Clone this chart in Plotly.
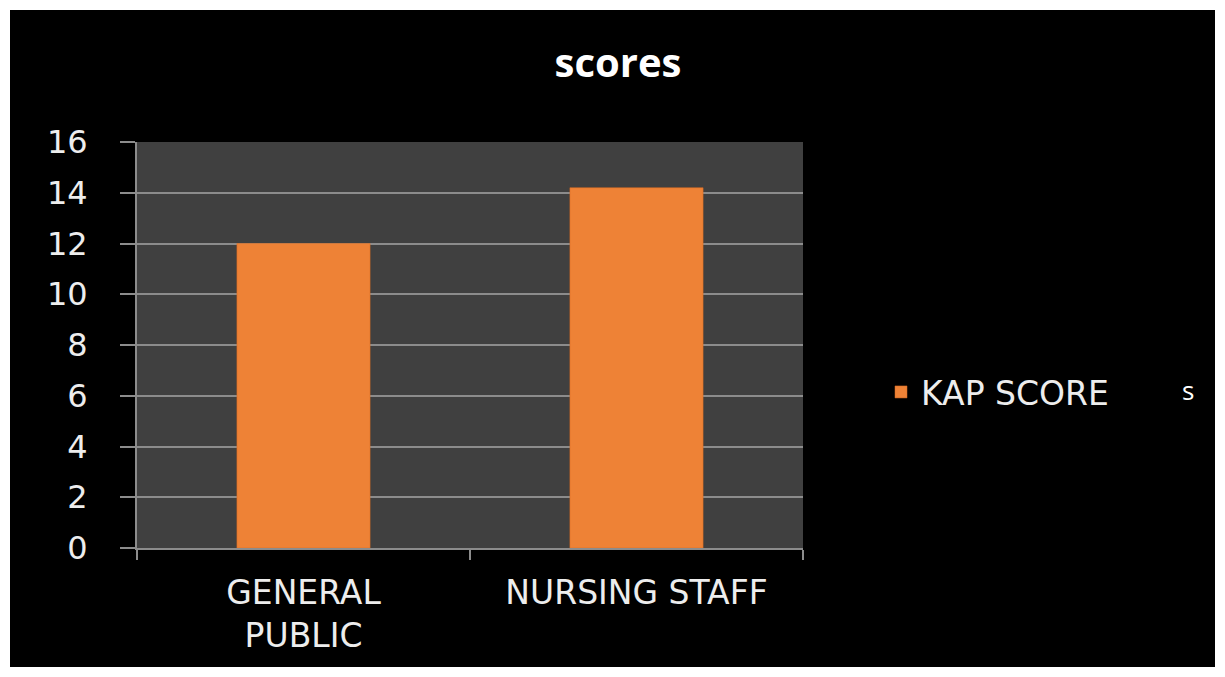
import plotly.graph_objects as go

categories = ["GENERAL<br>PUBLIC", "NURSING STAFF"]
kap_score = [12.0, 14.2]
series_name = "KAP SCORE"
y_ticks = [0, 2, 4, 6, 8, 10, 12, 14, 16]

# page body has an 8px margin, so the figure sits at (8, 8) on screen
OFF = 8
SW, SH = 1225, 677
W, H = SW - 2 * OFF, SH - 2 * OFF
# plot area in screen px
SL, SR, ST, SB = 137, 803, 142, 548
L, R, T, B = SL - OFF, SR - OFF, ST - OFF, SB - OFF


def px_x(p):
    return (p - SL) / (SR - SL)


def px_y(p):
    return (SB - p) / (SB - ST)


fig = go.Figure()
fig.add_trace(go.Bar(
    x=categories, y=kap_score, name=series_name,
    marker=dict(color="#EE8236", line=dict(color="#D86A20", width=0.5)),
    width=0.4,
))

grid = "#8C8C8C"
label_font = dict(family="DejaVu Sans", size=33, color="#EDEDED")
fig.update_layout(
    width=W, height=H,
    margin=dict(l=L, r=W - R, t=T, b=H - B, pad=0),
    paper_bgcolor="black",
    plot_bgcolor="#404040",
    title=dict(text="<b>scores</b>", x=(618 - OFF) / W, xanchor="center",
               y=1 - (63 - OFF) / H, yanchor="middle",
               font=dict(family="Open Sans", size=40, color="white")),
    showlegend=True,
    legend=dict(x=px_x(881), y=px_y(392), xanchor="left", yanchor="middle",
                font=label_font, bgcolor="rgba(0,0,0,0)", itemwidth=30),
    xaxis=dict(
        showline=True, linecolor=grid, linewidth=2,
        ticks="outside", tickson="boundaries", ticklen=10, tickcolor=grid, tickwidth=2,
        tickfont=label_font,
        ticklabelstandoff=14,
        showgrid=False,
    ),
    yaxis=dict(
        range=[0, 16], tickvals=y_ticks, ticktext=[str(v) for v in y_ticks],
        showline=True, linecolor=grid, linewidth=2,
        ticks="outside", ticklen=15, tickcolor=grid, tickwidth=2,
        gridcolor=grid, gridwidth=2,
        tickfont=dict(family="DejaVu Sans", size=32, color="#EDEDED"),
        ticklabelstandoff=26,
        zeroline=False,
    ),
    shapes=[dict(type="rect", xref="paper", yref="paper",
                 x0=px_x(OFF), x1=px_x(OFF + W), y0=px_y(OFF + H), y1=px_y(OFF),
                 line=dict(color="white", width=4), fillcolor="rgba(0,0,0,0)", layer="above")],
    annotations=[dict(text="s", xref="paper", yref="paper", x=px_x(1196), y=px_y(390),
                      showarrow=False, font=dict(family="Open Sans", size=26, color="white"))],
)

fig.write_html("out.html")
